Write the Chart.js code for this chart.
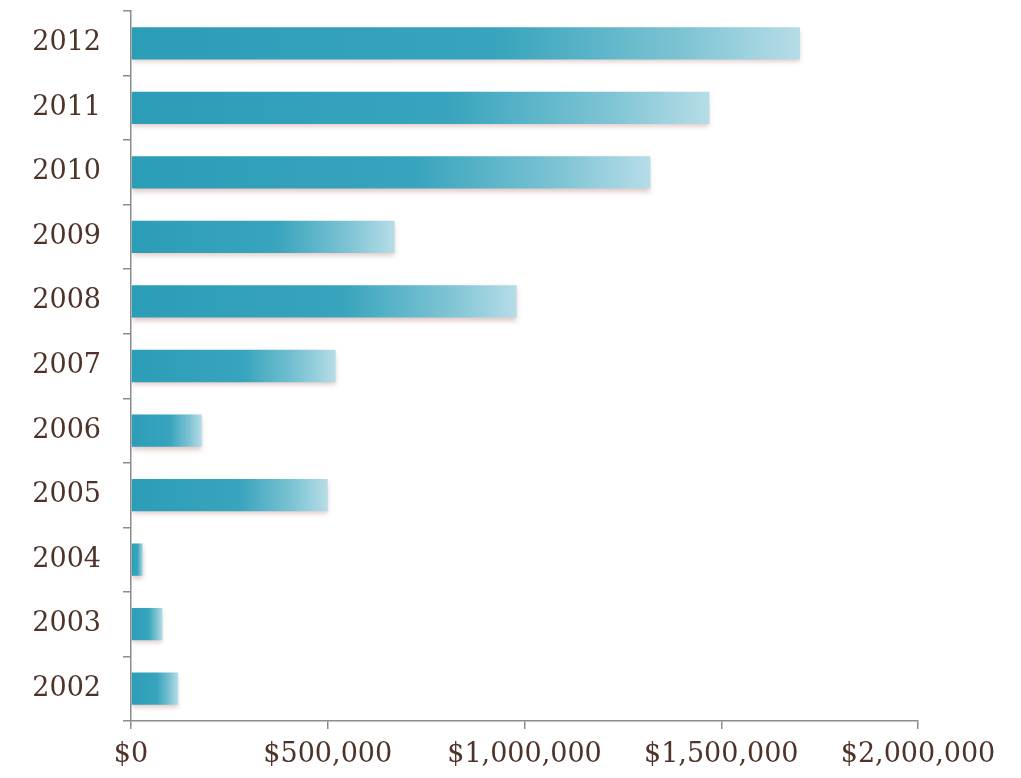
<!DOCTYPE html>
<html>
<head>
<meta charset="utf-8">
<script src="https://cdn.jsdelivr.net/npm/chart.js@4/dist/chart.umd.min.js"></script>
<style>
    html, body { margin: 0; padding: 0; background: #fff; }
    .wrap { width: 1021px; height: 778px; }
</style>
</head>
<body>
<div class="wrap"><canvas id="myChart" width="1021" height="778"></canvas></div>
<script>
// data
const years = ['2012', '2011', '2010', '2009', '2008', '2007', '2006', '2005', '2004', '2003', '2002']
const amounts = [1700000, 1470000, 1320000, 670000, 980000, 520000, 180000, 500000, 30000, 80000, 120000]
const xTicks = [0, 500000, 1000000, 1500000, 2000000]

const textColor = '#4e3329'
const axisColor = '#8c8c8c'

// gradient per bar, from the axis to the end of the bar
function barColor(context) {
    const chart = context.chart
    const area = chart.chartArea
    if( !area ) return '#2a9db7'
    const x = chart.scales.x
    const start = x.getPixelForValue(0)
    const end = x.getPixelForValue(amounts[context.dataIndex])
    const g = chart.ctx.createLinearGradient(start, 0, end, 0)
    g.addColorStop(0, '#2c9db7')
    g.addColorStop(0.55, '#38a4bd')
    g.addColorStop(0.82, '#7cc3d3')
    g.addColorStop(1, '#b6dde7')
    return g
}

// soft shadow under bars
const barShadow = {
    id: 'barShadow',
    beforeDatasetDraw(chart) {
        chart.ctx.save()
        chart.ctx.shadowColor = 'rgba(160, 100, 90, 0.35)'
        chart.ctx.shadowBlur = 5
        chart.ctx.shadowOffsetY = 3
    },
    afterDatasetDraw(chart) {
        chart.ctx.restore()
    }
}

const ctx = document.getElementById('myChart').getContext('2d')

let myChart = new Chart(ctx, {
    type: 'bar',
    data: {
        labels: years,
        datasets: [{
            data: amounts,
            backgroundColor: barColor,
            borderWidth: 0,
            categoryPercentage: 1,
            barPercentage: 0.5
        }]
    },
    options: {
        indexAxis: 'y',
        responsive: false,
        animation: false,
        layout: {
            padding: { top: 11, right: 103, bottom: 0, left: 0 }
        },
        plugins: {
            legend: { display: false },
            tooltip: { enabled: false }
        },
        scales: {
            x: {
                min: 0,
                max: 2000000,
                afterBuildTicks: s => { s.ticks = xTicks.map(v => ({ value: v })) },
                afterFit: s => { s.height = 57 },
                border: { color: axisColor, width: 1.5 },
                grid: { drawOnChartArea: false, color: axisColor, tickLength: 8, lineWidth: 1.5 },
                ticks: {
                    color: textColor,
                    padding: 10,
                    maxRotation: 0,
                    font: { family: 'DejaVu Serif', size: 27 },
                    callback: v => '$' + Number(v).toLocaleString('en-US')
                }
            },
            y: {
                afterFit: s => {
                    s.width = 131
                    s.paddingTop = 0
                    s.paddingBottom = 0
                },
                border: { color: axisColor, width: 1.5 },
                grid: { drawOnChartArea: false, color: axisColor, tickLength: 8, lineWidth: 1.5 },
                ticks: {
                    color: textColor,
                    padding: 22,
                    font: { family: 'DejaVu Serif', size: 27 }
                }
            }
        }
    },
    plugins: [barShadow]
})
</script>
</body>
</html>
